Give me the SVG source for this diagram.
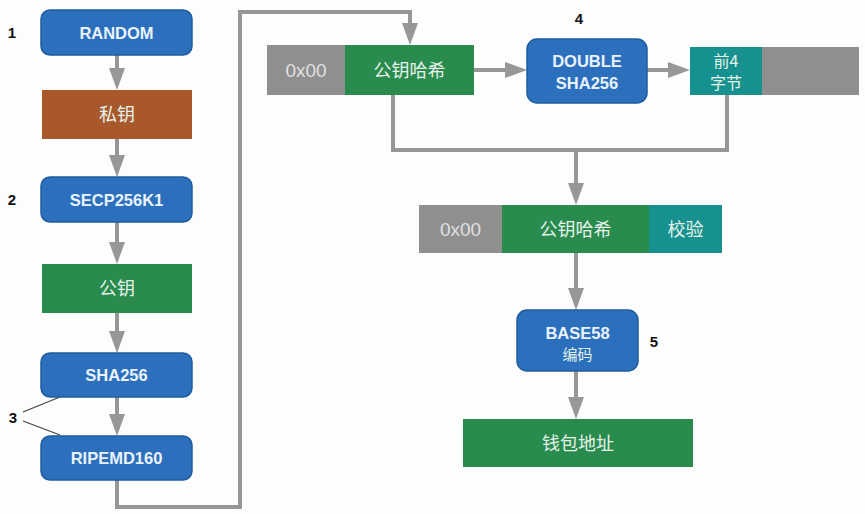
<svg xmlns="http://www.w3.org/2000/svg" width="865" height="514" viewBox="0 0 865 514">
<style>
.blue{fill:#2c70bd;stroke:#1f5c9f;stroke-width:1.5}
.brown{fill:#a8582b}
.green{fill:#2a8b4e}
.teal{fill:#17918f}
.grey{fill:#8f8f8f}
.bt{font-family:"Liberation Sans",Arial,sans-serif;font-weight:bold;font-size:16.5px;fill:#eaf2fb;text-anchor:middle}
.cn{font-family:"Noto Sans CJK SC","Noto Sans",sans-serif;font-size:18px;fill:#e6f3ea;text-anchor:middle}
.cs{font-family:"Noto Sans CJK SC","Noto Sans",sans-serif;font-size:16px;fill:#e6f3ea;text-anchor:middle}
.hx{font-family:"Liberation Sans",Arial,sans-serif;font-size:19px;fill:#e0e0e0;text-anchor:middle}
.num{font-family:"Liberation Sans",Arial,sans-serif;font-weight:bold;font-size:15px;fill:#111;text-anchor:middle}
.conn{fill:none;stroke:#979797;stroke-width:4}
.thin{fill:none;stroke:#444;stroke-width:1.2}
</style>
<defs>
<marker id="ah" viewBox="0 0 22 16" refX="11" refY="8" markerWidth="22" markerHeight="16" markerUnits="userSpaceOnUse" orient="auto">
<path d="M0,0 L22,8 L0,16 z" fill="#979797"/>
</marker>
</defs>
<rect width="865" height="514" fill="#fdfdfd"/>

<g id="connectors">
<path class="conn" d="M117,55 V79" marker-end="url(#ah)"/>
<path class="conn" d="M117,139 V166" marker-end="url(#ah)"/>
<path class="conn" d="M117,222 V253" marker-end="url(#ah)"/>
<path class="conn" d="M117,313 V342" marker-end="url(#ah)"/>
<path class="conn" d="M117,397 V425" marker-end="url(#ah)"/>
<path class="conn" d="M117,480 V507 H240 V12 H410 V34" marker-end="url(#ah)"/>
<path class="conn" d="M474,70 H516" marker-end="url(#ah)"/>
<path class="conn" d="M647,70 H679" marker-end="url(#ah)"/>
<path class="conn" d="M393,95 V150 H727 V95"/>
<path class="conn" d="M576,150 V194" marker-end="url(#ah)"/>
<path class="conn" d="M576,253 V299" marker-end="url(#ah)"/>
<path class="conn" d="M576,371 V408" marker-end="url(#ah)"/>
<path class="thin" d="M23,412 L60,397"/>
<path class="thin" d="M23,421 L60,435"/>
</g>

<g id="label1"><text class="num" x="12" y="38">1</text></g>
<g id="label2"><text class="num" x="12" y="205">2</text></g>
<g id="label3"><text class="num" x="13" y="423">3</text></g>
<g id="label4"><text class="num" x="579" y="24">4</text></g>
<g id="label5"><text class="num" x="654" y="347">5</text></g>

<g id="random">
<rect class="blue" x="41" y="10" width="151" height="45" rx="9"/>
<text class="bt" x="116.5" y="38.5">RANDOM</text>
</g>
<g id="privkey">
<rect class="brown" x="42" y="90" width="150" height="49"/>
<text class="cn" x="117" y="121">私钥</text>
</g>
<g id="secp256k1">
<rect class="blue" x="41" y="177" width="151" height="45" rx="9"/>
<text class="bt" x="116.5" y="205.5">SECP256K1</text>
</g>
<g id="pubkey">
<rect class="green" x="42" y="264" width="150" height="49"/>
<text class="cn" x="117" y="295">公钥</text>
</g>
<g id="sha256">
<rect class="blue" x="41" y="353" width="151" height="44" rx="9"/>
<text class="bt" x="116.5" y="381">SHA256</text>
</g>
<g id="ripemd160">
<rect class="blue" x="41" y="436" width="151" height="44" rx="9"/>
<text class="bt" x="116.5" y="464">RIPEMD160</text>
</g>

<g id="row1">
<rect class="grey" x="267" y="45" width="78" height="50"/>
<text class="hx" x="306" y="77">0x00</text>
<rect class="green" x="345" y="45" width="129" height="50"/>
<text class="cn" x="409.5" y="76.5">公钥哈希</text>
</g>
<g id="double-sha256">
<rect class="blue" x="527" y="39" width="120" height="64" rx="10"/>
<text class="bt" x="587" y="67">DOUBLE</text>
<text class="bt" x="587" y="89">SHA256</text>
</g>
<g id="checksum-row">
<rect class="teal" x="690" y="47" width="72" height="48"/>
<text class="cs" x="726" y="67">前4</text>
<text class="cs" x="726" y="89">字节</text>
<rect class="grey" x="762" y="47" width="97" height="48"/>
</g>

<g id="row2">
<rect class="grey" x="419" y="205" width="83" height="48"/>
<text class="hx" x="460.5" y="236">0x00</text>
<rect class="green" x="502" y="205" width="147" height="48"/>
<text class="cn" x="575.5" y="235.5">公钥哈希</text>
<rect class="teal" x="649" y="205" width="73" height="48"/>
<text class="cn" x="685.5" y="235.5">校验</text>
</g>
<g id="base58">
<rect class="blue" x="517" y="310" width="121" height="61" rx="10"/>
<text class="bt" x="577.5" y="339">BASE58</text>
<text class="cs" x="577.5" y="360" style="font-size:15px">编码</text>
</g>
<g id="wallet">
<rect class="green" x="463" y="419" width="230" height="48"/>
<text class="cn" x="578" y="449.5">钱包地址</text>
</g>
</svg>
